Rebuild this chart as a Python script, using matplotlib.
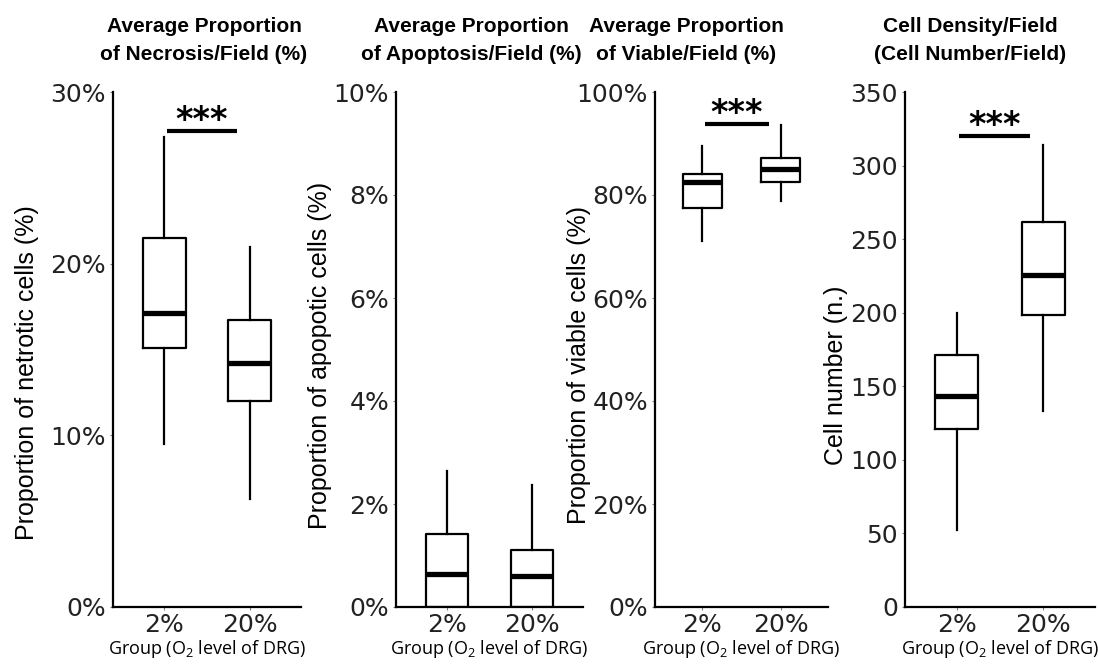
import matplotlib.pyplot as plt
from matplotlib.ticker import FuncFormatter

# group labels
groups = ["2%", "20%"]

# box stats: (whislo, q1, med, q3, whishi) per group
necrosis = [(9.5, 15.1, 17.1, 21.5, 27.35), (6.3, 12.0, 14.2, 16.7, 21.0)]
apoptosis = [(0.0, 0.0, 0.64, 1.42, 2.65), (0.0, 0.0, 0.61, 1.10, 2.36)]
viable = [(71.0, 77.5, 82.6, 84.1, 89.6), (78.8, 82.5, 85.0, 87.2, 93.5)]
density = [(52, 121, 143.5, 171.5, 200), (133, 198.5, 225.5, 261.5, 314)]

titles = ["Average Proportion\nof Necrosis/Field (%)",
          "Average Proportion\nof Apoptosis/Field (%)",
          "Average Proportion\nof Viable/Field (%)",
          "Cell Density/Field\n(Cell Number/Field)"]
ylabels = ["Proportion of netrotic cells (%)",
           "Proportion of apopotic cells (%)",
           "Proportion of viable cells (%)",
           "Cell number (n.)"]
yticks = [[0, 10, 20, 30], [0, 2, 4, 6, 8, 10],
          [0, 20, 40, 60, 80, 100], [0, 50, 100, 150, 200, 250, 300, 350]]
ymax = [30, 10, 100, 350]
is_pct = [True, True, True, False]
# significance bar height (None = no bar)
sig = [27.7, None, 93.8, 320]

panels = [necrosis, apoptosis, viable, density]

W, H = 1098, 665
fig = plt.figure(figsize=(W / 100, H / 100), dpi=100)

# axes placement in pixels: left, width
ax_px = [(113, 188), (396, 187), (655, 173), (905, 190)]
title_x = [204, 471, 686, 970]
ylab_x = [27, 320, 579, 836]
ylab_y = [373, 355, 365, 375]
top_px, bot_px = 92, 607

for i, data in enumerate(panels):
    l, w = ax_px[i]
    ax = fig.add_axes([l / W, 1 - bot_px / H, w / W, (bot_px - top_px) / H])
    stats = []
    for g, (lo, q1, med, q3, hi) in zip(groups, data):
        stats.append(dict(label=g, whislo=lo, q1=q1, med=med, q3=q3, whishi=hi, fliers=[]))
    ax.bxp(stats, positions=[1, 2], widths=0.5, showcaps=False, showfliers=False,
           boxprops=dict(color='black', linewidth=1.6),
           whiskerprops=dict(color='black', linewidth=1.6),
           medianprops=dict(color='black', linewidth=3.8))
    ax.set_xlim(0.4, 2.6)
    ax.set_ylim(0, ymax[i])
    ax.set_yticks(yticks[i])
    if is_pct[i]:
        ax.yaxis.set_major_formatter(FuncFormatter(lambda v, _: f'{v:.0f}%'))
    ax.set_xticks([1, 2])
    ax.set_xticklabels(groups)
    for s in ['top', 'right']:
        ax.spines[s].set_visible(False)
    for s in ['left', 'bottom']:
        ax.spines[s].set_linewidth(1.6)
    ax.tick_params(axis='y', length=2, width=0.8, color='gray', labelsize=18, pad=3)
    ax.tick_params(axis='x', length=2, width=0.8, color='gray', labelsize=18, pad=2)
    for t in ax.get_yticklabels() + ax.get_xticklabels():
        t.set_fontfamily('DejaVu Sans')
        t.set_color('#222222')
    ax.set_xlabel("Group (O$_\\mathregular{2}$ level of DRG)", fontsize=13,
                  fontfamily='Open Sans', labelpad=1)
    ax.patch.set_alpha(0)

    if sig[i] is not None:
        ax.plot([1.03, 1.85], [sig[i], sig[i]], color='black', linewidth=3,
                solid_capstyle='butt', clip_on=False)
        ax.annotate("***", xy=(1.44, sig[i]), xytext=(0, 1), textcoords='offset points',
                    ha='center', va='baseline', fontsize=24, fontweight='bold',
                    fontfamily='DejaVu Sans', annotation_clip=False)

    fig.text(title_x[i] / W, 1 - 40 / H, titles[i], ha='center', va='center',
             fontsize=15, fontweight='bold', fontfamily='Liberation Sans', linespacing=1.6)
    fig.text(ylab_x[i] / W, 1 - ylab_y[i] / H, ylabels[i], rotation=90, ha='center',
             va='center', fontsize=18, fontfamily='Liberation Sans')

plt.savefig("out.png", dpi=100)
